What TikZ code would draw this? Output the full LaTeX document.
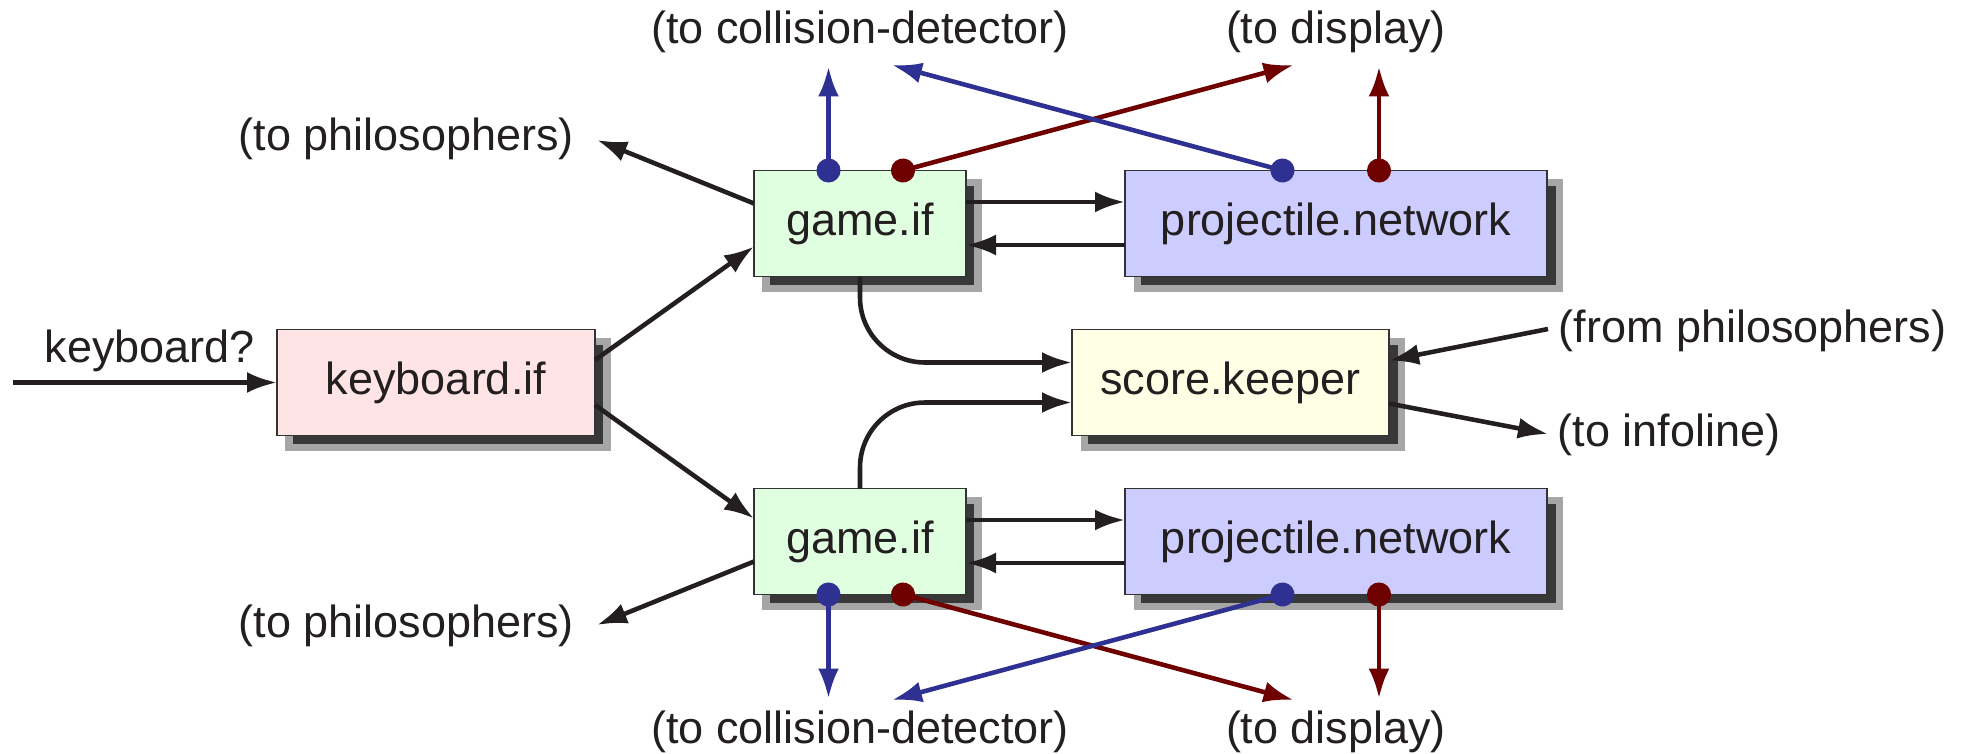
\documentclass[tikz,border=0pt]{standalone}
\usepackage{fontspec}
\setmainfont{Liberation Sans}
\usetikzlibrary{positioning,shadows,arrows.meta}
\definecolor{inkblack}{RGB}{35,31,32}
\definecolor{wireblue}{RGB}{46,49,146}
\definecolor{wirered}{RGB}{110,0,0}
\definecolor{kbdpink}{RGB}{255,228,230}
\definecolor{gamegreen}{RGB}{224,255,224}
\definecolor{projblue}{RGB}{204,204,255}
\definecolor{scoreyellow}{RGB}{255,255,230}

\begin{document}
\begin{tikzpicture}[
  node distance=0.53cm and 1.59cm,
  font=\fontsize{12.8}{15}\selectfont,
  text=inkblack,
  procnode/.style={draw=black!80,line width=0.4pt,minimum height=1.06cm,inner sep=0pt,outer sep=0pt,
    general shadow={shadow xshift=1.2mm,shadow yshift=-1.2mm,fill=black!78,draw=black!35,line width=2pt}},
  wire/.style={line width=1.3pt,draw=inkblack,-{Latex[length=3mm,width=2.1mm]}},
  dotwire/.style={wire,{Circle[length=2.4mm]}-{Latex[length=3mm,width=2.1mm]},shorten <=-1.2mm},
  note/.style={anchor=base,inner sep=0pt}
]
\useasboundingbox (0,3.825) rectangle (19.66,-3.705);

\node[procnode,fill=kbdpink,minimum width=3.18cm] (kbd) at (4.36,0) {keyboard.if};
\node[procnode,fill=gamegreen,minimum width=2.12cm,above right=of kbd] (game1) {game.if};
\node[procnode,fill=gamegreen,minimum width=2.12cm,below right=of kbd] (game2) {game.if};
\node[procnode,fill=projblue,minimum width=4.22cm,right=of game1] (proj1) {projectile.network};
\node[procnode,fill=projblue,minimum width=4.22cm,right=of game2] (proj2) {projectile.network};
\node[procnode,fill=scoreyellow,minimum width=3.17cm,below right=0.53cm and 1.06cm of game1] (score) {score.keeper};

% labels
\node[note] (kbdin) at (1.50,0.205) {keyboard?};
\node[note] (tophil) at (4.065,2.32) {(to philosophers)};
\node[note] (botphil) at (4.065,-2.545) {(to philosophers)};
\node[note] (topcoll) at (8.60,3.385) {(to collision-detector)};
\node[note] (topdisp) at (13.36,3.385) {(to display)};
\node[note] (botcoll) at (8.60,-3.61) {(to collision-detector)};
\node[note] (botdisp) at (13.36,-3.61) {(to display)};
\node[note] (fromphil) at (17.525,0.405) {(from philosophers)};
\node[note] (infoline) at (16.69,-0.635) {(to infoline)};

% free ends
\coordinate (kbdsrc) at (0.13,0);
\coordinate (tophilend) at (5.97,2.425);
\coordinate (botphilend) at (5.97,-2.425);
\coordinate (fromphilsrc) at (15.48,0.535);
\coordinate (infolineend) at (15.48,-0.515);

% ports
\coordinate (g1b) at ([xshift=-3.15mm]game1.north);
\coordinate (g1r) at ([xshift=4.3mm]game1.north);
\coordinate (p1b) at ([xshift=-5.35mm]proj1.north);
\coordinate (p1r) at ([xshift=4.3mm]proj1.north);
\coordinate (g2b) at ([xshift=-3.15mm]game2.south);
\coordinate (g2r) at ([xshift=4.3mm]game2.south);
\coordinate (p2b) at ([xshift=-5.35mm]proj2.south);
\coordinate (p2r) at ([xshift=4.3mm]proj2.south);
\coordinate (g1bend) at ([yshift=10.4mm]g1b);
\coordinate (g1rend) at (12.935,3.175);
\coordinate (p1bend) at (8.92,3.175);
\coordinate (p1rend) at ([yshift=10.4mm]p1r);
\coordinate (g2bend) at ([yshift=-10.4mm]g2b);
\coordinate (g2rend) at (12.935,-3.175);
\coordinate (p2bend) at (8.92,-3.175);
\coordinate (p2rend) at ([yshift=-10.4mm]p2r);

\path (kbdsrc) edge[wire] (kbd.west)
([yshift=2.25mm]kbd.east) edge[wire] ([yshift=-2.3mm]game1.west)
([yshift=-2.25mm]kbd.east) edge[wire] ([yshift=2.3mm]game2.west)
([yshift=2mm]game1.west) edge[wire] (tophilend)
([yshift=-2mm]game2.west) edge[wire] (botphilend)
([yshift=2.15mm]game1.east) edge[wire] ([yshift=2.15mm]proj1.west)
([yshift=-2.15mm]proj1.west) edge[wire] ([yshift=-2.15mm]game1.east)
([yshift=2.15mm]game2.east) edge[wire] ([yshift=2.15mm]proj2.west)
([yshift=-2.15mm]proj2.west) edge[wire] ([yshift=-2.15mm]game2.east)
(fromphilsrc) edge[wire] ([yshift=2.2mm]score.east)
([yshift=-2.1mm]score.east) edge[wire] (infolineend)
;

\draw[wire,rounded corners=6.5mm] (game1.south) |- ([yshift=2mm]score.west);
\draw[wire,rounded corners=6.5mm] (game2.north) |- ([yshift=-2mm]score.west);

\path (g1b) edge[dotwire,draw=wireblue,fill=wireblue] (g1bend)
(g1r) edge[dotwire,draw=wirered,fill=wirered] (g1rend)
(p1b) edge[dotwire,draw=wireblue,fill=wireblue] (p1bend)
(p1r) edge[dotwire,draw=wirered,fill=wirered] (p1rend)
(g2b) edge[dotwire,draw=wireblue,fill=wireblue] (g2bend)
(g2r) edge[dotwire,draw=wirered,fill=wirered] (g2rend)
(p2b) edge[dotwire,draw=wireblue,fill=wireblue] (p2bend)
(p2r) edge[dotwire,draw=wirered,fill=wirered] (p2rend)
;

\end{tikzpicture}
\end{document}
